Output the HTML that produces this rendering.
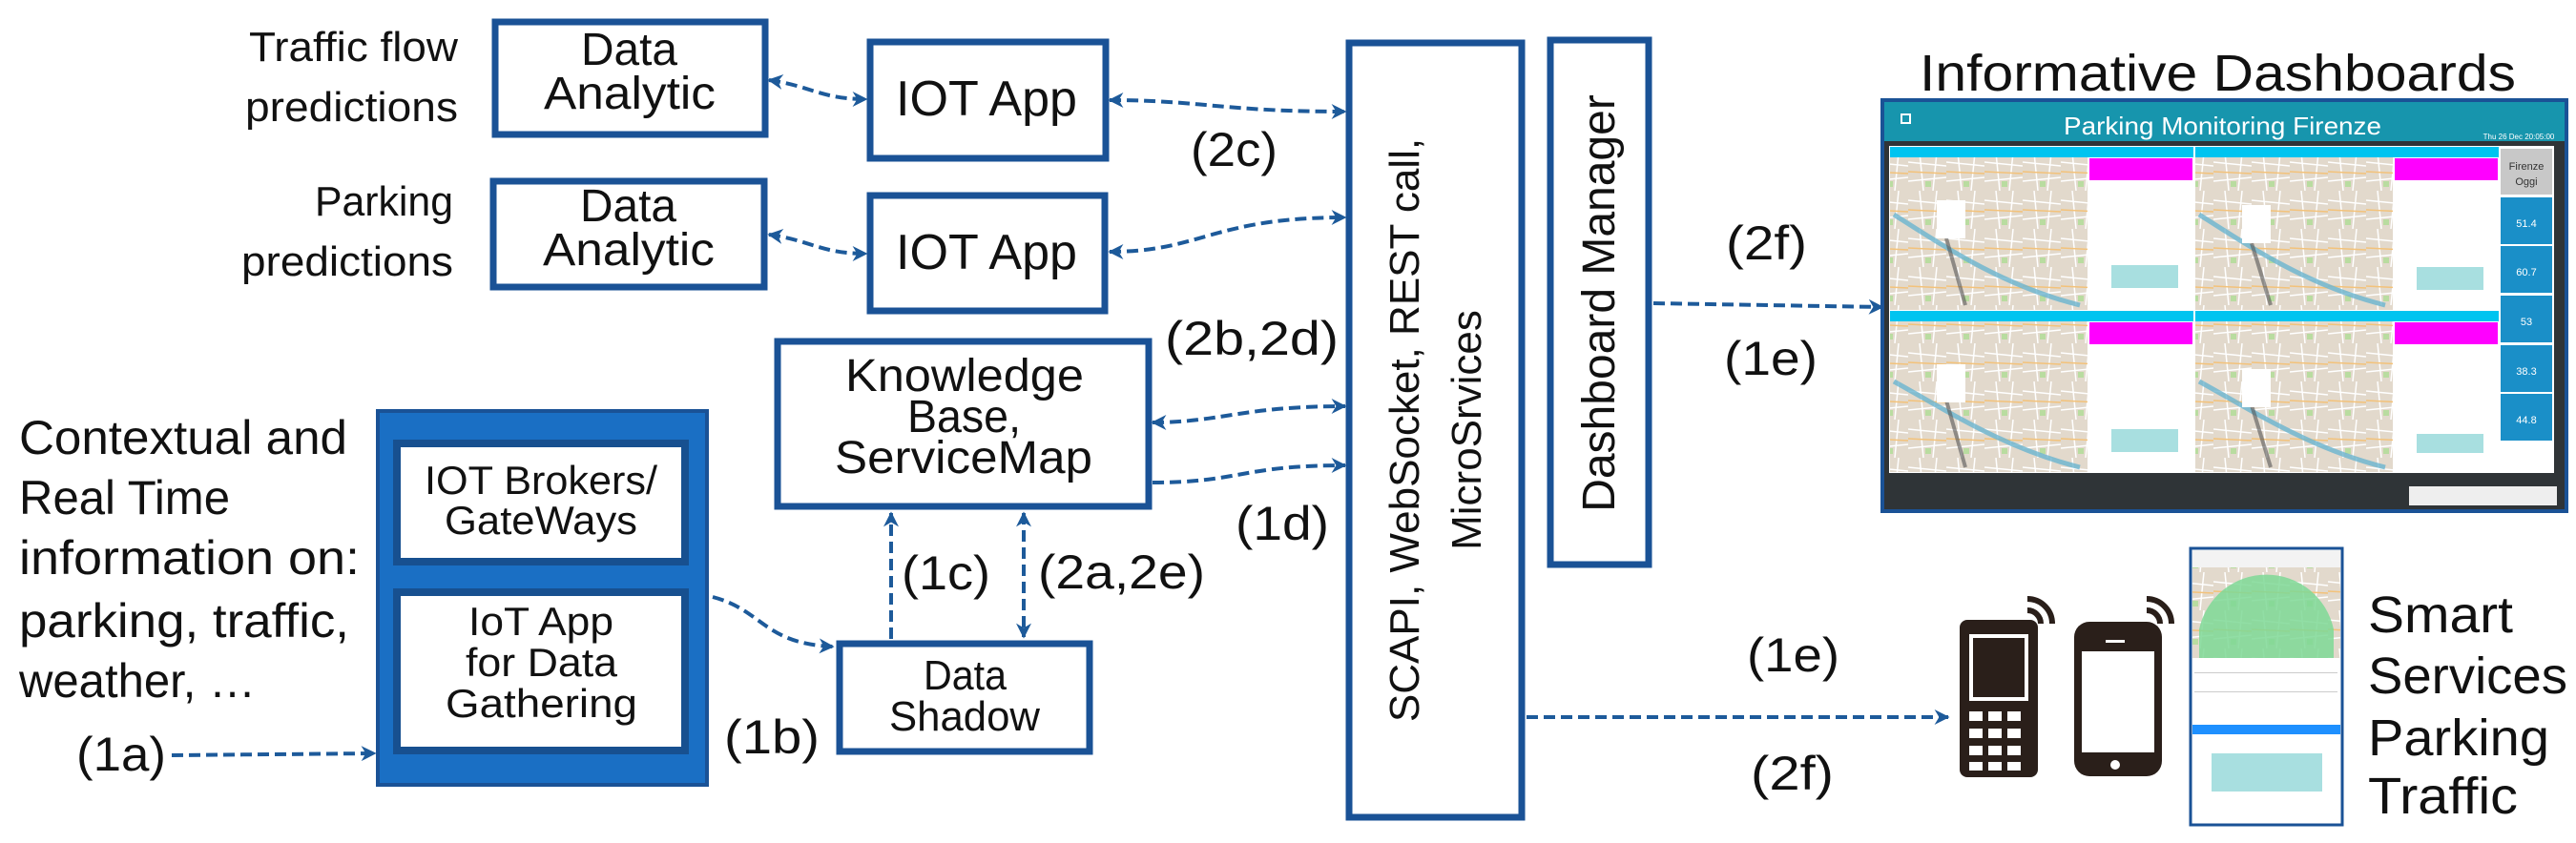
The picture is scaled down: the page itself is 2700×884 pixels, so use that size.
<!DOCTYPE html>
<html><head><meta charset="utf-8"><style>
html,body{margin:0;padding:0;background:#fff;}
svg{display:block;}
.n{font-family:"Liberation Sans",sans-serif;fill:#111;}
.w{font-family:"Liberation Sans",sans-serif;fill:#111;}
</style></head><body>
<svg width="2700" height="884" viewBox="0 0 2700 884" xmlns="http://www.w3.org/2000/svg">
<defs>
<marker id="ah" viewBox="0 0 10 10" refX="9" refY="5" markerWidth="4" markerHeight="4" orient="auto-start-reverse" markerUnits="strokeWidth">
<path d="M0,0 L10,5 L0,10 L3,5 z" fill="#1d5a9a"/></marker>
<pattern id="map" width="40" height="40" patternUnits="userSpaceOnUse">
<rect width="40" height="40" fill="#e2d9cc"/>
<path d="M0,10 L40,14 M0,30 L40,26 M12,0 L16,40 M30,0 L26,40" stroke="#fff" stroke-width="1.5"/>
<path d="M0,20 L40,22" stroke="#f3c27a" stroke-width="1.5"/>
<rect x="18" y="30" width="6" height="6" fill="#b9dca0"/>
</pattern>
</defs>
<g fill="none" stroke="#1a5296" stroke-width="7">
<rect x="519" y="23" width="283" height="118"/>
<rect x="912" y="44" width="247" height="122"/>
<rect x="517" y="190" width="284" height="111"/>
<rect x="912" y="205" width="246" height="121"/>
<rect x="815" y="358" width="389" height="173"/>
<rect x="880" y="675" width="262" height="113"/>
<rect x="1414" y="45" width="181" height="812"/>
<rect x="1625" y="42" width="103" height="550"/>
</g>
<rect x="396" y="431" width="345" height="392" fill="#1a6fc4" stroke="#1a5296" stroke-width="4"/>
<rect x="416" y="465" width="302" height="124" fill="#fff" stroke="#175090" stroke-width="8"/>
<rect x="416" y="621" width="302" height="166" fill="#fff" stroke="#175090" stroke-width="8"/>

<g class="n" font-size="44">
<text x="261" y="64" textLength="219" lengthAdjust="spacingAndGlyphs">Traffic flow</text>
<text x="257" y="127" textLength="223" lengthAdjust="spacingAndGlyphs">predictions</text>
<text x="330" y="226" textLength="145" lengthAdjust="spacingAndGlyphs">Parking</text>
<text x="253" y="289" textLength="222" lengthAdjust="spacingAndGlyphs">predictions</text>
</g>
<g class="n" font-size="48">
<text x="609" y="68" textLength="101" lengthAdjust="spacingAndGlyphs">Data</text>
<text x="570" y="114" textLength="180" lengthAdjust="spacingAndGlyphs">Analytic</text>
<text x="608" y="232" textLength="101" lengthAdjust="spacingAndGlyphs">Data</text>
<text x="569" y="278" textLength="180" lengthAdjust="spacingAndGlyphs">Analytic</text>
<text x="939" y="121" font-size="52" textLength="190" lengthAdjust="spacingAndGlyphs">IOT App</text>
<text x="939" y="282" font-size="52" textLength="190" lengthAdjust="spacingAndGlyphs">IOT App</text>
<text x="886" y="410" textLength="250" lengthAdjust="spacingAndGlyphs">Knowledge</text>
<text x="951" y="453" textLength="119" lengthAdjust="spacingAndGlyphs">Base,</text>
<text x="875" y="496" textLength="270" lengthAdjust="spacingAndGlyphs">ServiceMap</text>
<text x="968" y="723" font-size="44" textLength="87" lengthAdjust="spacingAndGlyphs">Data</text>
<text x="932" y="766" font-size="44" textLength="158" lengthAdjust="spacingAndGlyphs">Shadow</text>
<text x="445" y="518" font-size="42" textLength="244" lengthAdjust="spacingAndGlyphs">IOT Brokers/</text>
<text x="466" y="560" font-size="42" textLength="202" lengthAdjust="spacingAndGlyphs">GateWays</text>
<text x="491" y="666" font-size="42" textLength="152" lengthAdjust="spacingAndGlyphs">IoT App</text>
<text x="488" y="709" font-size="42" textLength="159" lengthAdjust="spacingAndGlyphs">for Data</text>
<text x="467" y="752" font-size="42" textLength="201" lengthAdjust="spacingAndGlyphs">Gathering</text>
</g>
<g class="n" font-size="50">
<text x="20" y="476" textLength="344" lengthAdjust="spacingAndGlyphs">Contextual and</text>
<text x="20" y="539" textLength="221" lengthAdjust="spacingAndGlyphs">Real Time</text>
<text x="20" y="602" textLength="357" lengthAdjust="spacingAndGlyphs">information on:</text>
<text x="20" y="668" textLength="346" lengthAdjust="spacingAndGlyphs">parking, traffic,</text>
<text x="20" y="731" textLength="248" lengthAdjust="spacingAndGlyphs">weather, …</text>
<text x="80" y="808" textLength="94" lengthAdjust="spacingAndGlyphs">(1a)</text>
<text x="759" y="790" textLength="100" lengthAdjust="spacingAndGlyphs">(1b)</text>
<text x="945" y="618" textLength="93" lengthAdjust="spacingAndGlyphs">(1c)</text>
<text x="1088" y="617" textLength="175" lengthAdjust="spacingAndGlyphs">(2a,2e)</text>
<text x="1248" y="174" textLength="91" lengthAdjust="spacingAndGlyphs">(2c)</text>
<text x="1221" y="372" textLength="182" lengthAdjust="spacingAndGlyphs">(2b,2d)</text>
<text x="1295" y="566" textLength="98" lengthAdjust="spacingAndGlyphs">(1d)</text>
<text x="1809" y="272" textLength="85" lengthAdjust="spacingAndGlyphs">(2f)</text>
<text x="1807" y="393" textLength="98" lengthAdjust="spacingAndGlyphs">(1e)</text>
<text x="1831" y="704" textLength="97" lengthAdjust="spacingAndGlyphs">(1e)</text>
<text x="1835" y="828" textLength="87" lengthAdjust="spacingAndGlyphs">(2f)</text>
</g>
<g class="w" text-anchor="middle">
<text transform="translate(1487,451) rotate(-90)" font-size="44">SCAPI, WebSocket, REST call,</text>
<text transform="translate(1552,451) rotate(-90)" font-size="44">MicroSrvices</text>
<text transform="translate(1692,318) rotate(-90)" font-size="48">Dashboard Manager</text>
</g>
<text class="n" x="2012" y="95" font-size="54" textLength="625" lengthAdjust="spacingAndGlyphs">Informative Dashboards</text>
<g class="n" font-size="54">
<text x="2482" y="663" textLength="152" lengthAdjust="spacingAndGlyphs">Smart</text>
<text x="2482" y="727" textLength="209" lengthAdjust="spacingAndGlyphs">Services</text>
<text x="2482" y="792" textLength="190" lengthAdjust="spacingAndGlyphs">Parking</text>
<text x="2482" y="853" textLength="157" lengthAdjust="spacingAndGlyphs">Traffic</text>
</g>

<g fill="none" stroke="#1d5a9a" stroke-width="4" stroke-dasharray="12,6">
<path d="M806,84 C850,90 860,104 908,104" marker-start="url(#ah)" marker-end="url(#ah)"/>
<path d="M806,246 C850,252 860,266 908,266" marker-start="url(#ah)" marker-end="url(#ah)"/>
<path d="M1163,105 C1260,105 1280,117 1410,117" marker-start="url(#ah)" marker-end="url(#ah)"/>
<path d="M1163,264 C1260,264 1270,228 1410,228" marker-start="url(#ah)" marker-end="url(#ah)"/>
<path d="M1208,443 C1280,443 1300,426 1410,426" marker-start="url(#ah)" marker-end="url(#ah)"/>
<path d="M1208,506 C1300,506 1300,488 1410,488" marker-end="url(#ah)"/>
<path d="M180,792 L393,790" marker-end="url(#ah)"/>
<path d="M747,626 C800,640 800,675 873,678" marker-end="url(#ah)"/>
<path d="M934,670 L934,538" marker-end="url(#ah)"/>
<path d="M1073,538 L1073,668" marker-start="url(#ah)" marker-end="url(#ah)"/>
<path d="M1733,318 L1973,322" marker-end="url(#ah)"/>
<path d="M1600,752 L2042,752" marker-end="url(#ah)"/>
</g>

<!-- dashboard -->
<rect x="1973" y="105" width="717" height="431" fill="#2f3437" stroke="#1a5296" stroke-width="4"/>
<rect x="1975" y="107" width="713" height="41" fill="#1795ad"/>
<rect x="1993" y="120" width="9" height="9" fill="none" stroke="#fff" stroke-width="2"/>
<text x="2163" y="141" font-family="Liberation Sans,sans-serif" font-size="26" fill="#fff" textLength="333" lengthAdjust="spacingAndGlyphs">Parking Monitoring Firenze</text>
<text x="2640" y="146" font-family="Liberation Sans" font-size="8" fill="#fff" text-anchor="middle">Thu 26 Dec 20:05:00</text>
<rect x="1980" y="153" width="697" height="343" fill="#fff"/>
<g>
<rect x="1981" y="154" width="318" height="11" fill="#00c4f0"/>
<rect x="2301" y="154" width="318" height="11" fill="#00c4f0"/>
<rect x="1981" y="326" width="318" height="11" fill="#00c4f0"/>
<rect x="2301" y="326" width="318" height="11" fill="#00c4f0"/>
<rect x="1981" y="165" width="207" height="160" fill="url(#map)"/>
<rect x="2301" y="165" width="207" height="160" fill="url(#map)"/>
<rect x="1981" y="337" width="207" height="158" fill="url(#map)"/>
<rect x="2301" y="337" width="207" height="158" fill="url(#map)"/>
<rect x="2190" y="166" width="108" height="23" fill="#ff00ff"/>
<rect x="2510" y="166" width="108" height="23" fill="#ff00ff"/>
<rect x="2190" y="338" width="108" height="23" fill="#ff00ff"/>
<rect x="2510" y="338" width="108" height="23" fill="#ff00ff"/>
<g fill="#a8dfe0"><rect x="2213" y="278" width="70" height="24"/><rect x="2533" y="280" width="70" height="24"/><rect x="2213" y="450" width="70" height="24"/><rect x="2533" y="455" width="70" height="20"/></g>
<g stroke="#6ab4d0" stroke-width="5" fill="none" opacity="0.8"><path d="M1985,225 C2040,260 2100,300 2180,320"/><path d="M2305,225 C2360,260 2420,300 2500,320"/><path d="M1985,400 C2040,430 2100,470 2180,490"/><path d="M2305,400 C2360,430 2420,470 2500,490"/></g>
<g stroke="#555" stroke-width="4" opacity="0.6"><path d="M2040,250 L2060,320"/><path d="M2360,255 L2380,320"/><path d="M2040,420 L2060,490"/><path d="M2360,425 L2380,490"/></g>
<g fill="#fff"><rect x="2030" y="210" width="30" height="40"/><rect x="2350" y="215" width="30" height="40"/><rect x="2030" y="382" width="30" height="40"/><rect x="2350" y="387" width="30" height="40"/></g>
<rect x="2621" y="156" width="54" height="48" fill="#c8c8c8"/>
<text x="2648" y="178" font-family="Liberation Sans,sans-serif" font-size="11" fill="#333" text-anchor="middle">Firenze</text>
<text x="2648" y="194" font-family="Liberation Sans,sans-serif" font-size="11" fill="#333" text-anchor="middle">Oggi</text>
<g fill="#1a8fc8"><rect x="2621" y="207" width="54" height="49"/><rect x="2621" y="258" width="54" height="49"/><rect x="2621" y="310" width="54" height="49"/><rect x="2621" y="362" width="54" height="49"/><rect x="2621" y="413" width="54" height="49"/></g>
<g font-family="Liberation Sans,sans-serif" font-size="11" fill="#fff" text-anchor="middle"><text x="2648" y="238">51.4</text><text x="2648" y="289">60.7</text><text x="2648" y="341">53</text><text x="2648" y="393">38.3</text><text x="2648" y="444">44.8</text></g>
<rect x="2525" y="510" width="155" height="20" fill="#eee"/>
</g>

<!-- phones -->
<g fill="#2a1f1a">
<rect x="2054" y="650" width="82" height="165" rx="8"/>
<rect x="2174" y="652" width="92" height="162" rx="16"/>
</g>
<rect x="2064" y="665" width="62" height="70" fill="#fff"/>
<rect x="2068" y="669" width="54" height="62" fill="#2a1f1a"/>
<g fill="#fff">
<rect x="2064" y="746" width="14" height="10"/><rect x="2084" y="746" width="14" height="10"/><rect x="2104" y="746" width="14" height="10"/>
<rect x="2064" y="764" width="14" height="10"/><rect x="2084" y="764" width="14" height="10"/><rect x="2104" y="764" width="14" height="10"/>
<rect x="2064" y="782" width="14" height="10"/><rect x="2084" y="782" width="14" height="10"/><rect x="2104" y="782" width="14" height="10"/>
<rect x="2064" y="799" width="14" height="9"/><rect x="2084" y="799" width="14" height="9"/><rect x="2104" y="799" width="14" height="9"/>
<rect x="2182" y="683" width="76" height="106"/>
<circle cx="2217" cy="802" r="5"/>
<rect x="2207" y="671" width="20" height="3"/>
</g>
<g fill="none" stroke="#2a1f1a" stroke-width="6">
<path d="M2125,640 A14,14 0 0 1 2139,654"/><path d="M2125,628 A26,26 0 0 1 2151,654"/>
<path d="M2250,640 A14,14 0 0 1 2264,654"/><path d="M2250,628 A26,26 0 0 1 2276,654"/>
</g>
<!-- mobile screenshot -->
<rect x="2296" y="575" width="159" height="290" fill="#fff" stroke="#1a5296" stroke-width="3"/>
<rect x="2298" y="595" width="155" height="95" fill="url(#map)"/>
<path d="M2305,690 L2305,660 A72,72 0 0 1 2446,660 L2446,690 Z" fill="#7ed895" opacity="0.85"/>
<rect x="2298" y="577" width="155" height="18" fill="#f3f3f3"/>
<rect x="2298" y="760" width="155" height="10" fill="#1e90ff"/>
<g fill="#a8dfe0"><rect x="2318" y="790" width="116" height="40"/></g>
<rect x="2300" y="705" width="150" height="1" fill="#ccc"/>
<rect x="2300" y="725" width="150" height="1" fill="#ccc"/>
</svg>
</body></html>
